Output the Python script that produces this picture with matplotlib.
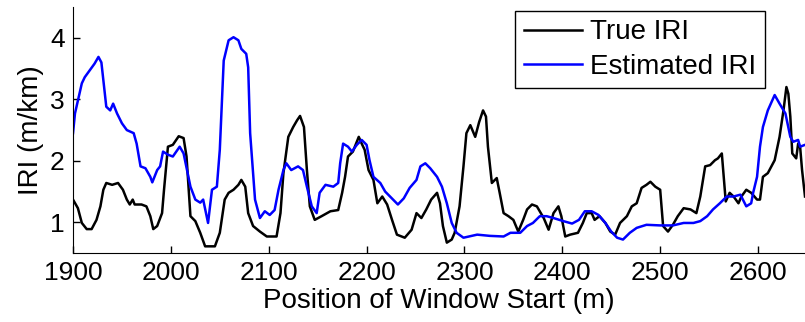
import matplotlib
matplotlib.use("Agg")
import matplotlib.pyplot as plt

plt.rcParams['font.family'] = ['Liberation Sans', 'DejaVu Sans']

# True IRI (black)
true_x = [1900, 1905, 1909, 1914, 1919, 1924, 1928, 1931, 1934, 1940, 1946, 1951, 1955, 1958,
          1961, 1963, 1970, 1975, 1979, 1982, 1986, 1991, 1993, 1997, 2002, 2008, 2013, 2016,
          2020, 2025, 2030, 2035, 2045, 2050, 2055, 2059, 2064, 2069, 2072, 2076, 2079, 2084,
          2091, 2098, 2108, 2112, 2115, 2120, 2125, 2129, 2132, 2136, 2139, 2142, 2147, 2154,
          2163, 2171, 2175, 2178, 2181, 2186, 2192, 2195, 2198, 2202, 2207, 2211, 2216, 2221,
          2226, 2231, 2239, 2246, 2251, 2256, 2261, 2266, 2272, 2275, 2278, 2282, 2287, 2290,
          2295, 2299, 2302, 2306, 2311, 2315, 2319, 2322, 2324, 2328, 2333, 2336, 2340, 2345,
          2350, 2355, 2360, 2364, 2369, 2374, 2381, 2386, 2391, 2396, 2399, 2403, 2408, 2416,
          2421, 2425, 2430, 2433, 2438, 2444, 2449, 2454, 2459, 2466, 2471, 2476, 2481, 2486,
          2490, 2495, 2500, 2503, 2508, 2513, 2518, 2524, 2531, 2537, 2541, 2546, 2551, 2556,
          2559, 2563, 2565, 2567, 2571, 2575, 2580, 2583, 2588, 2593, 2599, 2602, 2605, 2610,
          2617, 2622, 2626, 2629, 2631, 2633, 2635, 2639, 2641, 2643, 2645, 2648]
true_iri = [1.37, 1.23, 0.99, 0.89, 0.89, 1.04, 1.26, 1.53, 1.64, 1.61, 1.64, 1.53, 1.37, 1.29,
            1.37, 1.29, 1.29, 1.26, 1.10, 0.89, 0.94, 1.15, 1.53, 2.23, 2.26, 2.40, 2.37, 2.07,
            1.10, 1.02, 0.83, 0.61, 0.61, 0.83, 1.37, 1.48, 1.53, 1.61, 1.69, 1.58, 1.15, 0.94,
            0.85, 0.77, 0.77, 1.15, 1.80, 2.39, 2.55, 2.66, 2.73, 2.55, 1.85, 1.26, 1.04, 1.10,
            1.18, 1.20, 1.48, 1.74, 2.07, 2.15, 2.39, 2.28, 2.18, 1.85, 1.69, 1.31, 1.42, 1.29,
            1.04, 0.80, 0.75, 0.88, 1.15, 1.07, 1.21, 1.37, 1.48, 1.31, 0.94, 0.67, 0.72, 0.83,
            1.26, 1.91, 2.45, 2.58, 2.39, 2.63, 2.82, 2.72, 2.23, 1.64, 1.72, 1.48, 1.15, 1.10,
            1.04, 0.85, 1.04, 1.21, 1.29, 1.26, 1.07, 0.88, 1.15, 1.26, 1.10, 0.77, 0.80, 0.83,
            0.99, 1.15, 1.15, 1.04, 1.10, 0.99, 0.85, 0.80, 0.99, 1.10, 1.26, 1.31, 1.56, 1.61,
            1.66, 1.58, 1.53, 0.94, 0.85, 0.96, 1.10, 1.23, 1.21, 1.15, 1.42, 1.91, 1.93, 2.01,
            2.04, 2.12, 1.74, 1.34, 1.48, 1.42, 1.31, 1.42, 1.53, 1.48, 1.37, 1.37, 1.74, 1.80,
            2.01, 2.39, 2.82, 3.20, 3.09, 2.72, 2.12, 2.04, 2.28, 2.23, 1.85, 1.42]

# Estimated IRI (blue)
est_x = [1900, 1902, 1909, 1912, 1917, 1922, 1926, 1929, 1931, 1934, 1938, 1941, 1945, 1950,
         1955, 1962, 1965, 1969, 1974, 1979, 1981, 1986, 1989, 1992, 1997, 2002, 2009, 2013,
         2020, 2025, 2030, 2033, 2038, 2042, 2047, 2050, 2054, 2059, 2064, 2069, 2072, 2077,
         2079, 2081, 2086, 2091, 2096, 2101, 2106, 2110, 2115, 2118, 2123, 2130, 2135, 2139,
         2144, 2149, 2152, 2158, 2166, 2171, 2173, 2176, 2181, 2185, 2190, 2195, 2200, 2203,
         2207, 2214, 2219, 2227, 2232, 2238, 2244, 2251, 2255, 2260, 2265, 2272, 2277, 2282,
         2287, 2292, 2299, 2313, 2326, 2340, 2347, 2357, 2364, 2370, 2377, 2384, 2391, 2401,
         2410, 2417, 2423, 2430, 2437, 2444, 2450, 2456, 2462, 2469, 2476, 2486, 2500, 2513,
         2524, 2534, 2541, 2548, 2554, 2561, 2568, 2575, 2582, 2588, 2593, 2595, 2599, 2602,
         2605, 2610, 2617, 2622, 2628, 2633, 2636, 2641, 2643, 2648]
est_iri = [2.45, 2.77, 3.26, 3.36, 3.47, 3.58, 3.69, 3.60, 3.31, 2.88, 2.82, 2.93, 2.77, 2.61,
           2.50, 2.45, 2.28, 1.91, 1.88, 1.74, 1.65, 1.85, 1.91, 2.15, 2.10, 2.07, 2.23, 2.12,
           1.58, 1.37, 1.32, 1.37, 0.99, 1.53, 1.58, 2.18, 3.63, 3.96, 4.01, 3.96, 3.82, 3.74,
           3.52, 2.45, 1.37, 1.07, 1.18, 1.12, 1.20, 1.53, 1.85, 1.96, 1.85, 1.91, 1.85, 1.58,
           1.26, 1.15, 1.48, 1.61, 1.58, 1.64, 1.96, 2.28, 2.23, 2.15, 2.26, 2.34, 2.26, 2.01,
           1.74, 1.64, 1.50, 1.37, 1.29, 1.39, 1.56, 1.69, 1.91, 1.96, 1.88, 1.74, 1.58, 1.31,
           0.99, 0.83, 0.75, 0.80, 0.78, 0.77, 0.83, 0.83, 0.94, 0.99, 1.10, 1.10, 1.07, 1.02,
           0.98, 1.04, 1.18, 1.18, 1.12, 0.99, 0.85, 0.75, 0.72, 0.83, 0.91, 0.96, 0.95, 0.95,
           0.99, 0.99, 1.02, 1.10, 1.21, 1.31, 1.42, 1.42, 1.45, 1.26, 1.31, 1.48, 1.74, 2.23,
           2.55, 2.82, 3.07, 2.93, 2.77, 2.39, 2.31, 2.34, 2.23, 2.26]

x_ticks = [1900, 2000, 2100, 2200, 2300, 2400, 2500, 2600]
y_ticks = [1, 2, 3, 4]

fig = plt.figure(figsize=(8.05, 3.22), dpi=100)
ax = fig.add_axes([0.0907, 0.214, 0.9093, 0.764])

ax.plot(true_x, true_iri, color='black', lw=1.8, label='True IRI')
ax.plot(est_x, est_iri, color='#0000ff', lw=1.8, label='Estimated IRI')

ax.set_xlim(1900, 2648)
ax.set_ylim(0.5, 4.5)
ax.set_xticks(x_ticks)
ax.set_yticks(y_ticks)
ax.tick_params(direction='in', length=5, width=1, labelsize=19, pad=6)
ax.spines['top'].set_visible(False)
ax.spines['right'].set_visible(False)

ax.set_xlabel('Position of Window Start (m)', fontsize=20, labelpad=2)
ax.set_ylabel('IRI (m/km)', fontsize=20, labelpad=4)

leg = ax.legend(loc='upper right', bbox_to_anchor=(0.945, 0.984), borderaxespad=0,
                fontsize=20, fancybox=False, framealpha=1, handlelength=2.1,
                handletextpad=0.3, borderpad=0.3, labelspacing=0.3)
leg.get_frame().set_edgecolor('black')
leg.get_frame().set_linewidth(1)

fig.savefig('out.png', dpi=100)
